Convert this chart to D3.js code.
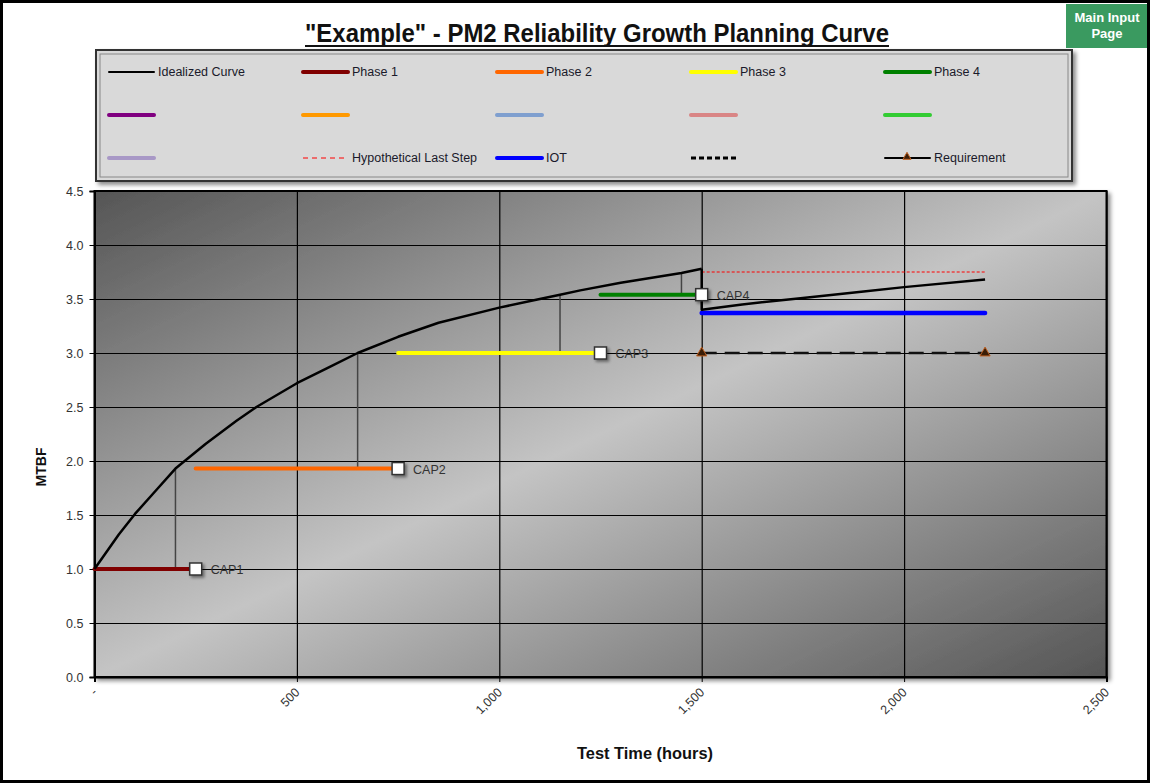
<!DOCTYPE html>
<html><head><meta charset="utf-8">
<script src="https://cdn.jsdelivr.net/npm/d3@7"></script>
<style>body{margin:0;background:#fff} svg{display:block}</style>
</head><body><svg id="c" width="1151" height="784"></svg>
<script>
// ---------- data ----------
const idealT = [0, 60, 100, 150, 200, 275, 350, 400, 500, 575, 650, 750, 850, 1000, 1100, 1150, 1200, 1300, 1400, 1450, 1500];
const idealM = [1.00, 1.32, 1.51, 1.72, 1.93, 2.16, 2.37, 2.50, 2.72, 2.86, 3.00, 3.15, 3.28, 3.42, 3.50, 3.54, 3.58, 3.65, 3.71, 3.74, 3.78];
const postT = [1500, 1500, 1600, 1750, 1900, 2000, 2200];
const postM = [3.78, 3.40, 3.45, 3.51, 3.57, 3.61, 3.68];
const phaseNames = ['Phase 1', 'Phase 2', 'Phase 3', 'Phase 4'];
const phaseStart = [0, 250, 750, 1250];
const phaseEnd = [250, 750, 1250, 1500];
const phaseMTBF = [1.00, 1.93, 3.00, 3.54];
const capLabels = ['CAP1', 'CAP2', 'CAP3', 'CAP4'];
const caT = [200, 650, 1150, 1450];
const caFrom = [1.00, 1.93, 3.00, 3.54];
const caTo = [1.93, 3.00, 3.54, 3.74];
const hypT = [1500, 2200], hypM = [3.75, 3.75];
const iotT = [1500, 2200], iotM = [3.37, 3.37];
const reqT = [1500, 2200], reqM = [3.00, 3.00];
const xTickValues = [0, 500, 1000, 1500, 2000, 2500];
const xTickLabels = ['-', '500', '1,000', '1,500', '2,000', '2,500'];
const yTickValues = [0, 0.5, 1.0, 1.5, 2.0, 2.5, 3.0, 3.5, 4.0, 4.5];
const legendLabels = ['Idealized Curve', 'Phase 1', 'Phase 2', 'Phase 3', 'Phase 4',
  '', '', '', '', '',
  '', 'Hypothetical Last Step', 'IOT', '', 'Requirement'];
const titleText = '"Example" - PM2 Reliability Growth Planning Curve';

// ---------- styles ----------
const phaseColors = ['#800000', '#ff6600', '#ffff00', '#008000'];
const legendColors = ['#000', '#800000', '#ff6600', '#ffff00', '#008000',
  '#800080', '#ff9900', '#7f9fcf', '#d98585', '#33cc33',
  '#a898c6', '#ff0000', '#0000ff', '#000', '#000'];
const legendWidths = [2, 4, 4, 4, 4, 4, 4, 4, 4, 4, 4, 1, 4, 3, 2];
const legendDash = [null, null, null, null, null, null, null, null, null, null, null, '5,4', null, '5,3', null];

const svg = d3.select('#c');
const defs = svg.append('defs');
const grad = defs.append('linearGradient').attr('id', 'bg')
  .attr('x1', 0).attr('y1', 0).attr('x2', 1).attr('y2', 1);
grad.append('stop').attr('offset', '0%').attr('stop-color', '#555555');
grad.append('stop').attr('offset', '50%').attr('stop-color', '#c4c4c4');
grad.append('stop').attr('offset', '100%').attr('stop-color', '#555555');
const sh = defs.append('filter').attr('id', 'sh').attr('x', '-10%').attr('y', '-10%').attr('width', '130%').attr('height', '130%');
sh.append('feDropShadow').attr('dx', 3).attr('dy', 3).attr('stdDeviation', 2).attr('flood-color', '#000').attr('flood-opacity', 0.45);
const sh2 = defs.append('filter').attr('id', 'sh2').attr('x', '-50%').attr('y', '-50%').attr('width', '200%').attr('height', '200%');
sh2.append('feDropShadow').attr('dx', 2).attr('dy', 2).attr('stdDeviation', 1.5).attr('flood-color', '#000').attr('flood-opacity', 0.45);

svg.append('rect').attr('width', 1151).attr('height', 784).attr('fill', '#fff');

const x = d3.scaleLinear().domain([0, 2500]).range([94.5, 1106.5]);
const y = d3.scaleLinear().domain([0, 4.5]).range([677, 191]);
const W = x.range()[1] - x.range()[0], H = y.range()[0] - y.range()[1];

// title
svg.append('text').attr('x', 597).attr('y', 42).attr('text-anchor', 'middle')
  .attr('font-family', '"Liberation Sans Narrow","Arial Narrow","Liberation Sans",sans-serif')
  .attr('font-weight', 'bold').attr('font-size', 25).attr('fill', '#111')
  .attr('textLength', 584).attr('lengthAdjust', 'spacingAndGlyphs').text(titleText);
svg.append('line').attr('x1', 305).attr('x2', 889).attr('y1', 46).attr('y2', 46)
  .attr('stroke', '#111').attr('stroke-width', 2);

// button
svg.append('rect').attr('x', 1066).attr('y', 4).attr('width', 82).attr('height', 44).attr('fill', '#3a9a60');
svg.append('text').attr('x', 1107).attr('y', 22).attr('text-anchor', 'middle')
  .attr('font-family', '"Liberation Sans Narrow","Arial Narrow",sans-serif').attr('font-weight', 'bold')
  .attr('font-size', 13).attr('fill', '#fff').text('Main Input');
svg.append('text').attr('x', 1107).attr('y', 38).attr('text-anchor', 'middle')
  .attr('font-family', '"Liberation Sans Narrow","Arial Narrow",sans-serif').attr('font-weight', 'bold')
  .attr('font-size', 13).attr('fill', '#fff').text('Page');

// legend
svg.append('rect').attr('x', 96).attr('y', 50).attr('width', 976).attr('height', 131)
  .attr('fill', '#d9d9d9').attr('stroke', '#333').attr('stroke-width', 2).attr('filter', 'url(#sh)');
svg.append('rect').attr('x', 100).attr('y', 54).attr('width', 968).attr('height', 123)
  .attr('fill', 'none').attr('stroke', '#888').attr('stroke-width', 1);
const lg = svg.append('g');
legendLabels.forEach((lab, i) => {
  const col = i % 5, row = Math.floor(i / 5);
  const lx = 109 + col * 194, ly = 72 + row * 43;
  const ln = lg.append('line').attr('x1', lx).attr('x2', lx + 45).attr('y1', ly).attr('y2', ly)
    .attr('stroke', legendColors[i]).attr('stroke-width', legendWidths[i]).attr('stroke-linecap', legendDash[i] ? 'butt' : 'round');
  if (legendDash[i]) ln.attr('stroke-dasharray', legendDash[i]);
  if (lab === 'Requirement') {
    lg.append('path').attr('d', d3.symbol(d3.symbolTriangle).size(28)())
      .attr('transform', `translate(${lx + 22},${ly - 1})`).attr('fill', '#3a1e08').attr('stroke', '#c06020').attr('stroke-width', 1);
  }
  if (lab) lg.append('text').attr('x', lx + 49).attr('y', ly + 4)
    .attr('font-family', '"Liberation Sans",Arial,sans-serif').attr('font-size', 12.5).attr('fill', '#1a1a2a').text(lab);
});

// plot area
svg.append('rect').attr('x', x(0)).attr('y', y(4.5)).attr('width', W).attr('height', H)
  .attr('fill', 'url(#bg)').attr('stroke', '#000').attr('stroke-width', 2).attr('filter', 'url(#sh)');

// gridlines
svg.append('g').attr('transform', `translate(${x(0)},0)`)
  .call(d3.axisLeft(y).tickValues(yTickValues).tickSize(-W).tickFormat(''))
  .call(g => { g.select('.domain').remove(); g.selectAll('line').attr('stroke', '#000').attr('stroke-width', 1.2); });
svg.append('g').attr('transform', `translate(0,${y(0)})`)
  .call(d3.axisBottom(x).tickValues(xTickValues).tickSize(-H).tickFormat(''))
  .call(g => { g.select('.domain').remove(); g.selectAll('line').attr('stroke', '#000').attr('stroke-width', 1.2); });

// axes
const yAx = svg.append('g').attr('transform', `translate(${x(0)},0)`)
  .call(d3.axisLeft(y).tickValues(yTickValues).tickSize(5).tickPadding(6).tickFormat(d3.format('.1f')));
yAx.select('.domain').attr('stroke', '#000').attr('stroke-width', 2);
yAx.selectAll('line').attr('stroke', '#000');
yAx.selectAll('text').attr('font-family', '"Liberation Sans",Arial,sans-serif').attr('font-size', 12.5).attr('fill', '#333');
const xAx = svg.append('g').attr('transform', `translate(0,${y(0)})`)
  .call(d3.axisBottom(x).tickValues(xTickValues).tickSize(5).tickFormat((d, i) => xTickLabels[i]));
xAx.select('.domain').attr('stroke', '#000').attr('stroke-width', 2);
xAx.selectAll('line').attr('stroke', '#000');
xAx.selectAll('text').attr('x', 0).attr('y', 0).attr('dy', 0)
  .attr('transform', 'translate(3,16) rotate(-45)').attr('text-anchor', 'end')
  .attr('font-family', '"Liberation Sans",Arial,sans-serif').attr('font-size', 12.5).attr('fill', '#333');

// axis titles
svg.append('text').attr('transform', 'translate(46,467) rotate(-90)').attr('text-anchor', 'middle')
  .attr('font-family', '"Liberation Sans",Arial,sans-serif').attr('font-weight', 'bold').attr('font-size', 14).attr('fill', '#111').text('MTBF');
svg.append('text').attr('x', 645).attr('y', 759).attr('text-anchor', 'middle')
  .attr('font-family', '"Liberation Sans Narrow","Arial Narrow",sans-serif').attr('font-weight', 'bold').attr('font-size', 17).attr('fill', '#111')
  .attr('textLength', 136).attr('lengthAdjust', 'spacingAndGlyphs').text('Test Time (hours)');

// marks
const line = d3.line().x(d => x(d[0])).y(d => y(d[1]));
const plot = svg.append('g');

// CA vertical lines
caT.forEach((t, i) => {
  plot.append('path').attr('d', line([[t, caFrom[i]], [t, caTo[i]]]))
    .attr('stroke', '#444').attr('stroke-width', 1.5).attr('fill', 'none');
});
// hypothetical last step
plot.append('path').attr('d', line(hypT.map((t, i) => [t, hypM[i]])))
  .attr('stroke', '#ff0000').attr('stroke-width', 1).attr('stroke-dasharray', '3,2').attr('fill', 'none');
// requirement
plot.append('path').attr('d', line(reqT.map((t, i) => [t, reqM[i]])))
  .attr('stroke', '#111').attr('stroke-width', 2.5).attr('stroke-dasharray', '15,8').attr('fill', 'none');
// IOT
plot.append('path').attr('d', line(iotT.map((t, i) => [t, iotM[i]])))
  .attr('stroke', '#0000ff').attr('stroke-width', 4.5).attr('stroke-linecap', 'round').attr('fill', 'none');
// phases
phaseNames.forEach((p, i) => {
  plot.append('path').attr('d', line([[phaseStart[i], phaseMTBF[i]], [phaseEnd[i], phaseMTBF[i]]]))
    .attr('stroke', phaseColors[i]).attr('stroke-width', 4).attr('stroke-linecap', 'round').attr('fill', 'none');
});
// idealized curve
plot.append('path').attr('d', line(idealT.map((t, i) => [t, idealM[i]])))
  .attr('stroke', '#000').attr('stroke-width', 2.5).attr('stroke-linejoin', 'round').attr('fill', 'none');
plot.append('path').attr('d', line(postT.map((t, i) => [t, postM[i]])))
  .attr('stroke', '#000').attr('stroke-width', 2.5).attr('stroke-linejoin', 'round').attr('fill', 'none');
// CAP markers
phaseNames.forEach((p, i) => {
  const cx = x(phaseEnd[i]), cy = y(phaseMTBF[i]);
  plot.append('rect').attr('x', cx - 6).attr('y', cy - 6).attr('width', 12).attr('height', 12)
    .attr('fill', '#fff').attr('stroke', '#333').attr('stroke-width', 1.5).attr('filter', 'url(#sh2)');
  plot.append('text').attr('x', cx + 15).attr('y', cy + 5)
    .attr('font-family', '"Liberation Sans",Arial,sans-serif').attr('font-size', 12.5).attr('fill', '#333').text(capLabels[i]);
});
// requirement markers
reqT.forEach((t, i) => {
  plot.append('path').attr('d', d3.symbol(d3.symbolTriangle).size(45)())
    .attr('transform', `translate(${x(t)},${y(reqM[i])})`)
    .attr('fill', '#3a1e08').attr('stroke', '#c06020').attr('stroke-width', 1);
});

// outer frame
svg.append('rect').attr('x', 1.5).attr('y', 1.5).attr('width', 1147).attr('height', 780)
  .attr('fill', 'none').attr('stroke', '#000').attr('stroke-width', 3);
</script></body></html>
